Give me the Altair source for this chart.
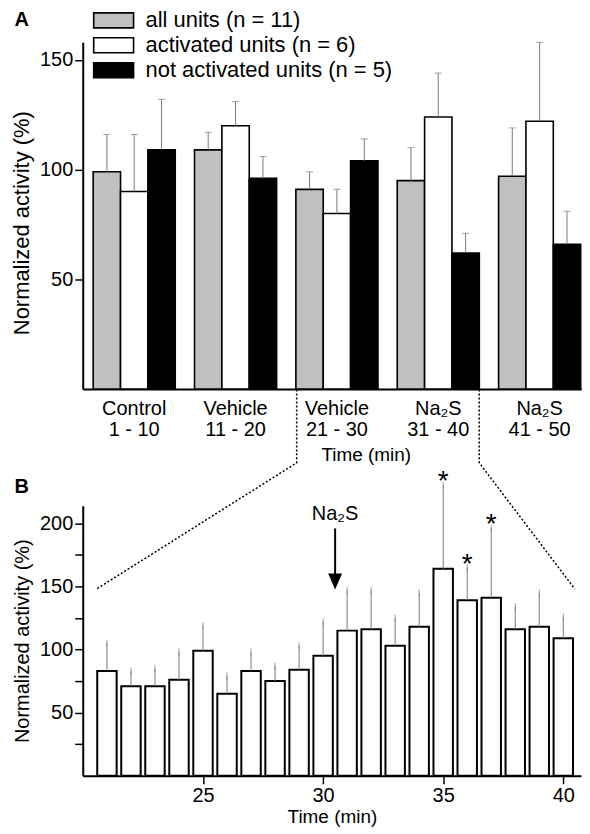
import altair as alt
import pandas as pd

FONT = "Liberation Sans"

# ---------------- Panel A data ----------------
group_names = ["Control", "Vehicle", "Vehicle", "Na₂S", "Na₂S"]
group_ranges = ["1 - 10", "11 - 20", "21 - 30", "31 - 40", "41 - 50"]
series = ["all units (n = 11)", "activated units (n = 6)", "not activated units (n = 5)"]
series_colors = ["#c0c0c0", "#ffffff", "#000000"]

all_mean = [99, 109, 91, 95, 97]
all_sem = [17, 8, 8, 15, 22]
act_mean = [90, 120, 80, 124, 122]
act_sem = [26, 11, 11, 20, 36]
not_mean = [109, 96, 104, 62, 66]
not_sem = [23, 10, 10, 9, 15]

# ---------------- Panel B data ----------------
minutes = list(range(21, 41))
b_mean = [83, 71, 71, 76, 99, 65, 83, 75, 84, 95, 115, 116, 103, 118, 164, 139, 141, 116, 118, 109]
b_sem = [22, 12, 14, 22, 20, 14, 15, 12, 19, 27, 32, 31, 22, 27, 66, 26, 55, 18, 27, 17]
sig_minutes = [35, 36, 37]

# annotation: Na2S application arrow (data units of panel B)
arrow_minute = [30.5]
arrow_label_level = [203]
arrow_shaft = [196, 159]
arrow_head_level = [154]

# zoom connector (dotted) lines, in panel B data units
conn_side = ["left", "left", "left", "right", "right", "right"]
conn_minute = [28.9, 28.9, 20.57, 36.5, 36.5, 40.48]
conn_level = [306, 248, 148, 306, 248, 148]

# ---------------- build tables ----------------
group_keys = [n + "|" + r for n, r in zip(group_names, group_ranges)]
rowsA = []
for gi, key in enumerate(group_keys):
    for s, m, e in zip(series, [all_mean, act_mean, not_mean], [all_sem, act_sem, not_sem]):
        rowsA.append({"group": key, "series": s, "mean": m[gi], "top": m[gi] + e[gi]})
dfA = pd.DataFrame(rowsA)

dfB = pd.DataFrame({"minute": minutes, "mean": b_mean,
                    "top": [m + e for m, e in zip(b_mean, b_sem)]})
dfB["sig"] = dfB["minute"].isin(sig_minutes)

dfArrow = pd.DataFrame({"minute": arrow_minute, "label": ["Na₂S"],
                        "lab": arrow_label_level, "s1": [arrow_shaft[0]],
                        "s2": [arrow_shaft[1]], "head": arrow_head_level})
dfConn = pd.DataFrame({"side": conn_side, "minute": conn_minute, "level": conn_level,
                       "idx": list(range(len(conn_side)))})

# ---------------- Panel A ----------------
YTITLE = "Normalized activity (%)"
xA = alt.X("group:N", sort=group_keys,
           scale=alt.Scale(paddingInner=0.19, paddingOuter=0.053, align=0.97),
           axis=alt.Axis(title="Time (min)", labelExpr="split(datum.label, '|')",
                         labelAngle=0, ticks=False, labelPadding=9, labelLineHeight=22,
                         titleX=284, titlePadding=6, labelBaseline="top"))
xoA = alt.XOffset("series:N", sort=series, scale=alt.Scale(paddingInner=0, paddingOuter=0))
yA_scale = alt.Scale(domain=[0, 158], nice=False)
yA_axis = alt.Axis(title=YTITLE, values=[50, 100, 150], titleFontSize=22,
                   titlePadding=6, titleY=181)

barsA = alt.Chart(dfA).mark_bar(stroke="black", strokeWidth=1.6).encode(
    x=xA, xOffset=xoA,
    y=alt.Y("mean:Q", scale=yA_scale, axis=yA_axis),
    fill=alt.Fill("series:N", sort=series,
                  scale=alt.Scale(domain=series, range=series_colors),
                  legend=alt.Legend(title=None, orient="none", legendX=20, legendY=-33,
                                    symbolType="M-2.5,-0.94H2.5V0.94H-2.5Z", symbolSize=256,
                                    symbolStrokeColor="black", symbolStrokeWidth=1.6,
                                    symbolOpacity=1, labelFontSize=22, labelFont=FONT,
                                    labelColor="black", labelOffset=21, rowPadding=3,
                                    labelLimit=500, padding=0)),
)
errA = alt.Chart(dfA).mark_rule(color="#7a7a7a", strokeWidth=1).encode(
    x=xA, xOffset=xoA,
    y=alt.Y("mean:Q", scale=yA_scale, axis=yA_axis), y2="top:Q")
capA = alt.Chart(dfA).mark_tick(color="#7a7a7a", thickness=1, size=7).encode(
    x=xA, xOffset=xoA, y=alt.Y("top:Q", scale=yA_scale, axis=yA_axis))

panelA = alt.layer(barsA, errA, capA).properties(
    width=500, height=348,
    title=alt.Title("A", anchor="start", frame="bounds", fontSize=20, fontWeight="bold",
                    font=FONT, color="black", dx=4, dy=-8))

# ---------------- Panel B ----------------
xB_scale = alt.Scale(domain=[20.2, 40.53], nice=False, zero=False)
xB_axis = alt.Axis(title="Time (min)", values=[25, 30, 35, 40], titlePadding=2)
yB_scale = alt.Scale(domain=[0, 214], nice=False)
yB_axis = alt.Axis(title=YTITLE, values=[25, 50, 75, 100, 125, 150, 175, 200],
                   labelExpr="datum.value % 50 == 0 ? datum.label : ''",
                   titleFontSize=20, titlePadding=7)

xB = alt.X("minute:Q", scale=xB_scale, axis=xB_axis)

barsB = alt.Chart(dfB).mark_bar(size=19.5, fill="white", stroke="black", strokeWidth=2).encode(
    x=xB, y=alt.Y("mean:Q", scale=yB_scale, axis=yB_axis))
errB = alt.Chart(dfB).mark_rule(color="#7a7a7a", strokeWidth=1).encode(
    x=xB, y=alt.Y("mean:Q", scale=yB_scale, axis=yB_axis), y2="top:Q")
capB = alt.Chart(dfB).mark_tick(color="#7a7a7a", thickness=1, size=7).encode(
    x=xB, y=alt.Y("top:Q", scale=yB_scale, axis=yB_axis))
starsB = alt.Chart(dfB).transform_filter("datum.sig").mark_text(
    text="*", fontSize=28, font=FONT, color="black",
    baseline="alphabetic", dy=5).encode(
    x=xB, y=alt.Y("top:Q", scale=yB_scale, axis=yB_axis))

arrowText = alt.Chart(dfArrow).mark_text(fontSize=20, font=FONT, color="black",
                                         baseline="alphabetic").encode(
    x=xB, y=alt.Y("lab:Q", scale=yB_scale, axis=yB_axis), text="label:N")
arrowShaft = alt.Chart(dfArrow).mark_rule(color="black", strokeWidth=2).encode(
    x=xB, y=alt.Y("s1:Q", scale=yB_scale, axis=yB_axis), y2="s2:Q")
arrowHead = alt.Chart(dfArrow).mark_point(shape="M-0.875,-1H0.875L0,1Z", size=256,
                                          filled=True, color="black", opacity=1).encode(
    x=xB, y=alt.Y("head:Q", scale=yB_scale, axis=yB_axis))

connB = alt.Chart(dfConn).mark_line(color="black", strokeWidth=1.5, strokeDash=[2, 2]).encode(
    x=alt.X("minute:Q", scale=xB_scale, axis=xB_axis),
    y=alt.Y("level:Q", scale=yB_scale, axis=yB_axis),
    detail="side:N", order="idx:Q")

panelB = alt.layer(barsB, errB, capB, starsB, arrowShaft, arrowHead, arrowText, connB).properties(
    width=500, height=271,
    title=alt.Title("B", anchor="start", frame="bounds", fontSize=20, fontWeight="bold",
                    font=FONT, color="black", dx=2, dy=115))

chart = alt.vconcat(panelA, panelB, spacing=117, bounds="flush").properties(
    padding={"left": 2, "top": 0, "right": 0, "bottom": 0}
).configure_view(stroke=None).configure_axis(
    labelFont=FONT, labelFontSize=20, labelColor="black",
    titleFont=FONT, titleFontSize=19, titleColor="black", titleFontWeight="normal",
    domainColor="black", domainWidth=2, tickColor="black", tickWidth=1.5, tickSize=8,
    labelPadding=2, grid=False
).configure_title(font=FONT)

chart.save("out.html", embed_options={"renderer": "svg", "actions": False})
